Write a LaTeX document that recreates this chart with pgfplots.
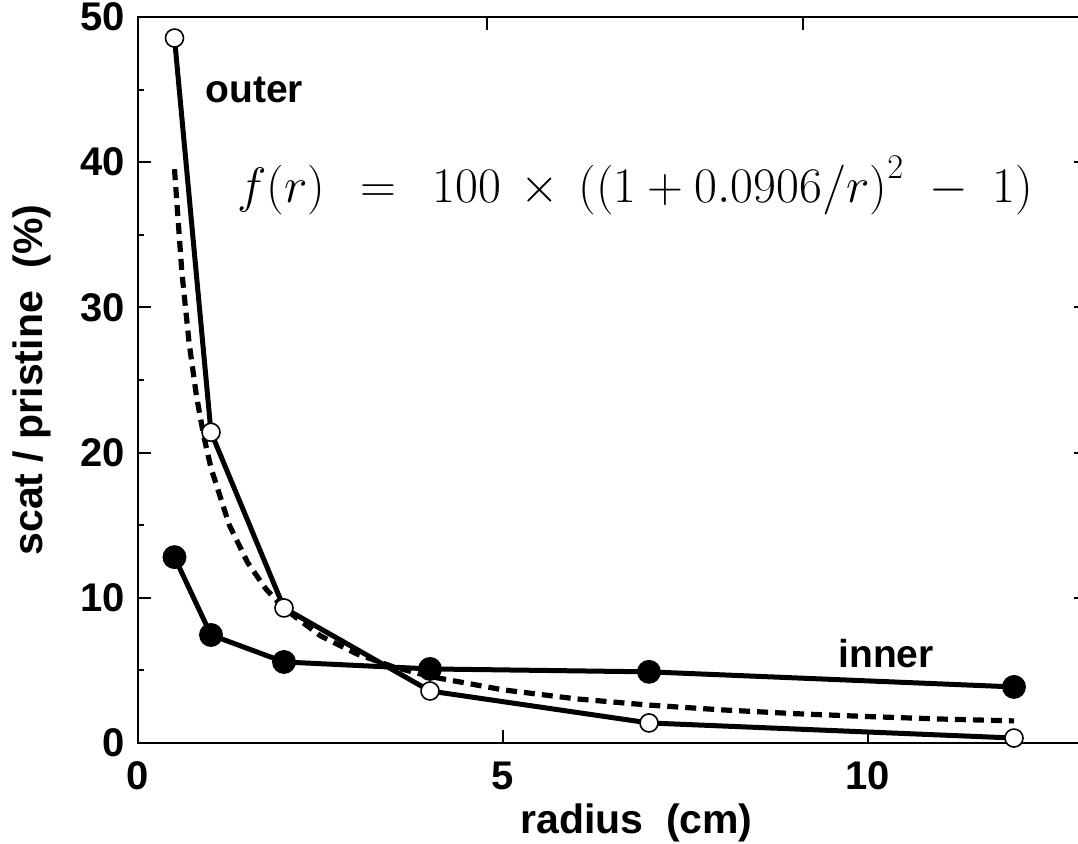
\documentclass[border=0pt]{standalone}
\usepackage[no-math]{fontspec}
\setmainfont{Liberation Sans}
\usepackage{pgfplots}
\pgfplotsset{compat=1.18}
\begin{document}
\begin{tikzpicture}
\begin{axis}[
  scale only axis,
  width=474.5pt, height=363pt,
  xmin=0, xmax=13, ymin=0, ymax=50,
  xtick={0,5,10}, ytick={0,10,20,30,40,50},
  minor ytick={5,15,25,35,45},
  xtick pos=bottom, ytick pos=both,
  tick align=inside,
  major tick length=6.5pt, minor tick length=3.25pt,
  every major tick/.style={line width=1pt,black},
  every minor tick/.style={line width=1pt,black},
  axis line style={line width=1.25pt},
  /pgf/number format/assume math mode=true,
  tick label style={font=\fontsize{20}{22}\selectfont\bfseries},
  xticklabel style={yshift=-6pt},
  yticklabel style={xshift=-3pt},
  label style={font=\fontsize{20.5}{23}\selectfont\bfseries},
  xlabel={radius\ \ (cm)},
  ylabel={scat / pristine\ \ (\%)},
  xlabel style={yshift=0pt, xshift=12pt},
  ylabel style={yshift=8pt},
  clip=false,
]
\coordinate (O) at (rel axis cs:0,0);
% dashed curve f(r) values
\addplot[black, line width=2.6pt, dash pattern=on 5.5pt off 3.5pt] coordinates {
(0.5,39.52) (0.6,32.48) (0.7,27.56) (0.8,23.93) (0.9,21.15) (1.0,18.94)
(1.25,15.02) (1.5,12.44) (1.75,10.62) (2,9.27) (2.5,7.38) (3,6.13)
(3.5,5.24) (4,4.58) (5,3.66) (6,3.04) (7,2.61) (8,2.28) (9,2.02)
(10,1.82) (11,1.65) (12,1.52)};
% inner
\addplot[black, line width=2.5pt, mark=*, mark size=4.7pt, mark options={solid, fill=black}] coordinates {
(0.5,12.8) (1,7.44) (2,5.58) (4,5.1) (7,4.9) (12,3.86)};
% outer
\addplot[black, line width=2.5pt, mark=*, mark size=4.5pt, mark options={solid, fill=white, line width=0.8pt}] coordinates {
(0.5,48.55) (1,21.4) (2,9.3) (4,3.58) (7,1.38) (12,0.34)};
\node[anchor=base west, inner sep=0pt, font=\fontsize{19.5}{22}\selectfont\bfseries] at (axis cs:0.92,44.1) {outer};
\node[anchor=base west, inner sep=0pt, font=\fontsize{19.5}{22}\selectfont\bfseries] at (axis cs:9.59,5.17) {inner};
\node[anchor=center, inner sep=0pt, font=\fontsize{23.5}{28}\selectfont] at (axis cs:6.81,38.4)
  {$f(r)\;\,=\;\,100\,\times\,\big(\big(1+0.0906/r\big)^2\;-\;1\big)$};
\draw[line width=1pt] (axis cs:4.78,50) -- ++(0,-6.5pt);
\draw[line width=1pt] (axis cs:9.11,50) -- ++(0,-6.5pt);
\end{axis}
\pgfresetboundingbox
\path[use as bounding box] ([shift={(-69pt,-50.5pt)}]O) rectangle ([shift={(470pt,371.5pt)}]O);
\end{tikzpicture}
\end{document}
